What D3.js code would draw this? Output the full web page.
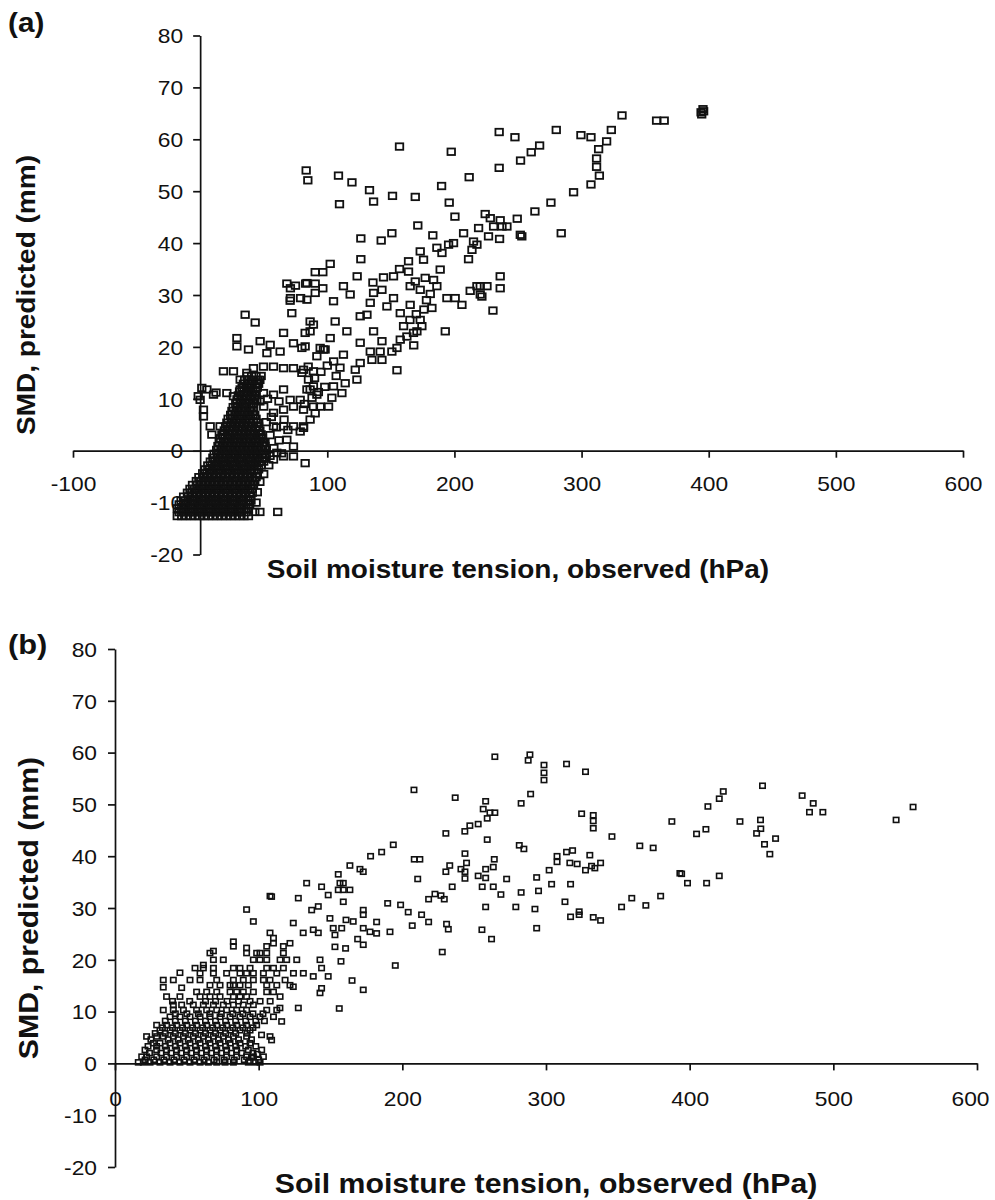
<!DOCTYPE html>
<html>
<head>
<meta charset="utf-8">
<script src="https://cdn.jsdelivr.net/npm/d3@7"></script>
<style>
  body { margin: 0; background: #fff; }
  svg text { font-family: "Liberation Sans", Arial, Helvetica, sans-serif; fill: #111; }
</style>
</head>
<body>
<div id="chart"></div>
<script>
// AXIS TICKS
const yTicks = [-20, -10, 0, 10, 20, 30, 40, 50, 60, 70, 80];
const xTicksA = [-100, 100, 200, 300, 400, 500, 600];
const xTicksB = [0, 100, 200, 300, 400, 500, 600];

// PANEL (a) - SCATTERED POINTS [tension hPa, SMD mm]
const smdA_scatter = [
  [394,65.2],[395.5,65.8],[394.5,64.8],[396,65.4],[331.8,64.6],[359,63.6],[365,63.6],
  [323.4,61.8],[319.7,59.6],[313.4,58.1],[311.8,56.3],[311.8,54.7],[314,53],[307.4,51.3],[293.7,49.8],[275.9,47.8],[263.3,46.1],[249.4,44.7],[284,41.9],[251.8,41.6],[253,41.3],
  [280.1,61.8],[299.5,60.8],[307.4,60.4],[235.2,61.4],[247.6,60.4],[267,58.8],[260.4,57.5],[252,55.9],[235.2,54.5],[211.6,52.7],[197.5,57.6],[156.8,58.6],
  [83.4,54],[84.7,52.1],[108.8,53],[119.4,51.7],[133.2,50.2],[109.6,47.5],[136.4,48],[151.3,49.1],[169.2,48.9],[189.9,51],[195.9,47.8],[200.4,45.1],[171.2,43.4],[183,41.5],[126.4,40.9],[142.4,40.5],[150.8,41.9],[126.4,36.9],[102.3,36],[96.5,34.4],[123.5,33.6],[90.5,34.4],
  [224.2,45.6],[228.2,44.8],[236,44.4],[237.4,43.2],[241.3,43.2],[219,42.9],[207.2,41.9],[230.8,43.2],[226.8,41.3],[235.5,40.8],[215,40.3],[217.7,39.7],[199.3,40],[195.4,39.7],[186.2,39.1],[190.2,38.1],[213.8,38.7],[211.1,36.9],
  [173.1,38.4],[175.7,36.8],[163.9,36.5],[156.8,35],[163.9,34.5],[169.2,32.6],[177,33.3],[188.8,34.9],[183.6,32.9],[186.2,31.7],[173.1,31],[144.2,33.4],[152.1,33.6],[135.9,32.4],[112.7,31.7],[118,30.1],[136.4,30.4],[236,33.6],[236,31.3],[220.3,31.7],[225.6,31.7],[212.4,30.8],[220.3,30.1],
  [230.3,27],[192.8,23],[154.8,15.5],[221.6,29.7],[217.7,31.7],[205.9,28.1],[200.6,29.4],[194.1,29.4],
  [173.1,25.2],[174.4,24],[170.5,23],[167.8,22.7],[162.6,22],[157.4,21.4],[154.8,19.8],[150.8,19.1],[143,17.5],[135.1,17.5],[141.6,19.1],[133.8,19.1],[125.9,16.9],[122,15.6],[123.3,13.7],[114.1,13],[111.5,11.1],[104.9,12.4],[103.6,10.2],[101,8.5],[94.4,8.5],[90.5,7.2],[86.5,6],[81.3,4.4],[78.7,3.7],
  [84,32.3],[90.5,30.4],[84,29.1],[104.9,28.8],[133.8,28.5],[146.9,27.8],[143,31],[152.1,29.4],[157.4,26.5],[165.2,28.1],[182.3,27.5],[165.2,31.7],[125.9,25.9],[131.2,26.2],[136.4,23],[143,21.1],[125.9,20.8],[115.4,23],[106.2,24.9],[102.3,21.7],[112.7,18.5],[97,19.5],[91.8,18.2],[86.5,23],[86.5,24.9],[82.6,20.1],[89.1,12.4],[84,11.8],[91.8,10.8],[85.2,13.7],
  [160,24],[165,25.2],[170,26.3],[176,27.2],[168,20.3],[178,29],[181,30.2],
  [80,15],[85,16.2],[90,14],[95,15.2],[100,16.4],[105,17.2],[88,10.2],[93,11.3],[98,12.3],[82,9],[107,14.4],[110,16],
  [70.8,28.9],[72.1,26.5],[35.4,26.2],[43.3,24.7],[65.6,22.7],[73.4,20.7],[80,19.8],[82.6,22.7],[89.1,24.3],[28.9,21.7],[28.9,20.1],[38,19.5],[47.2,21.1],[55.1,20.4],[62.9,19.1],[52.5,18.8],[94.4,19.8],[98.3,19.5],
  [18.3,15.3],[26.2,15.3],[31.5,13.7],[36.7,15],[41.9,15.9],[49.8,16.2],[57.7,16.2],[65.6,15.9],[73.4,15.9],[81.3,15.6],[89.1,15.3],
  [1.3,12.1],[-1.5,10.5],[10.5,10.8],[0,9.8],[2.6,7.9],[2.6,6.6],[7.9,4.7],[9.2,3.1],[15.7,4.7],[17.1,3.1],[5.3,11.8],[12.5,11.2],
  [21,11.1],[26.2,10.5],[31.5,11.8],[39.3,11.1],[44.6,9.8],[49.8,11.1],[57.7,10.8],[65.6,11.8],[70.8,9.8],[78.7,9.8],[86.5,11.8],
  [57.7,7.3],[65.6,7.9],[73.4,8.5],[81.3,7.9],[89.1,8.5],[57.7,4.7],[65.6,4.7],[73.4,4.7],[81.3,4.7],[68.2,2.1],[73.4,0.8],[60.3,-0.4],[65.6,-1.1],[73.4,-1.1],[82.6,-2.4],[57.7,-1.7],[43,-11.8],[47,-11.8],[61,-11.8],
  [68.2,32.2],[71,31.3],[75,31.8],[83,32.2],[90.5,32.2],[96.5,31.3],[71,29.4],[79,29.4],
  [55,-1],[58,0.5],[62,2],[55,3],[60,4.5],[52,5.5],[56,6.5],[50,8.5],[47,9.5],[53,10],[62,9.5],[66,6],[69,4],[64,-0.5],[51,1.5],[54,-2.8],[47,-6],[45,-8],[50,-4.5],[44,-10]
];

// PANEL (a) - SOLID CLUSTER NEAR THE ORIGIN, ONE ROW PER SMD LEVEL: [SMD, [tension values]]
const smdA_denseRows = [
  [-12.6, [-18,-14.5,-11,-7.5,-4,-0.5,3,6.5,10,13.5,17,20.5,24,27.5,31,34.5,38]],
  [-11.85, [-16.5,-13,-9.5,-6,-2.5,1,4.5,8,11.5,15,18.5,22,25.5,29,32.5,36]],
  [-11.1, [-18,-14.5,-11,-7.5,-4,-0.5,3,6.5,10,13.5,17,20.5,24,27.5,31,34.5,38]],
  [-10.35, [-16.5,-13,-9.5,-6,-2.5,1,4.5,8,11.5,15,18.5,22,25.5,29,32.5,36,39]],
  [-9.6, [-15,-11.5,-8,-4.5,-1,2.5,6,9.5,13,16.5,20,23.5,27,30.5,34,37.5,40]],
  [-8.85, [-13,-9.5,-6,-2.5,1,4.5,8,11.5,15,18.5,22,25.5,29,32.5,36,39.5]],
  [-8.1, [-10,-6.5,-3,0.5,4,7.5,11,14.5,18,21.5,25,28.5,32,35.5,39,41]],
  [-7.35, [-8,-4.5,-1,2.5,6,9.5,13,16.5,20,23.5,27,30.5,34,37.5,41]],
  [-6.6, [-6,-2.5,1,4.5,8,11.5,15,18.5,22,25.5,29,32.5,36,39.5,42]],
  [-5.85, [-3,0.5,4,7.5,11,14.5,18,21.5,25,28.5,32,35.5,39,43]],
  [-5.1, [-1,2.5,6,9.5,13,16.5,20,23.5,27,30.5,34,37.5,41,44]],
  [-4.35, [2,5.5,9,12.5,16,19.5,23,26.5,30,33.5,37,40.5,45]],
  [-3.6, [4,7.5,11,14.5,18,21.5,25,28.5,32,35.5,39,42.5,46]],
  [-2.85, [6,9.5,13,16.5,20,23.5,27,30.5,34,37.5,41,44.5,48]],
  [-2.1, [8,11.5,15,18.5,22,25.5,29,32.5,36,39.5,43,46.5,50]],
  [-1.35, [10,13.5,17,20.5,24,27.5,31,34.5,38,41.5,45,48.5,51]],
  [-0.6, [11,14.5,18,21.5,25,28.5,32,35.5,39,42.5,46,49.5,52]],
  [0.15, [13,16.5,20,23.5,27,30.5,34,37.5,41,44.5,48,52]],
  [0.9, [14,17.5,21,24.5,28,31.5,35,38.5,42,45.5,49,51]],
  [1.65, [15,18.5,22,25.5,29,32.5,36,39.5,43,46.5,50]],
  [2.4, [16,19.5,23,26.5,30,33.5,37,40.5,44,47.5,49]],
  [3.15, [18,21.5,25,28.5,32,35.5,39,42.5,46,48]],
  [3.9, [19,22.5,26,29.5,33,36.5,40,43.5,47]],
  [4.65, [20,23.5,27,30.5,34,37.5,41,44.5,46]],
  [5.4, [21,24.5,28,31.5,35,38.5,42,45]],
  [6.15, [22,25.5,29,32.5,36,39.5,44]],
  [6.9, [24,27.5,31,34.5,38,41.5,43]],
  [7.65, [25,28.5,32,35.5,39,42]],
  [8.4, [26,29.5,33,36.5,40,42]],
  [9.15, [28,31.5,35,38.5,42]],
  [9.9, [29,32.5,36,39.5,43]],
  [10.65, [30,33.5,37,40.5,43]],
  [11.4, [31,34.5,38,41.5,44]],
  [12.15, [33,36.5,40,43.5,45]],
  [12.9, [34,37.5,41,44.5,46]],
  [13.65, [35,38.5,42,45.5,47]],
  [14.4, [37,40.5,44,48]]
];

// PANEL (b) - POINTS [tension hPa, SMD mm]
const smdB = [
  [16.2,0.2],[19.7,0.2],[24.4,0.2],[31.3,0.2],[38.3,0.2],[45.2,0.2],[52.2,0.2],[59.2,0.2],[65,0.2],[70.8,0.2],[76.6,0.2],[82.4,0.2],[92.8,0.2],[97.5,0.2],[101,0.2],
  [18.6,1.3],[22,1.3],[29,1.3],[35.9,1.3],[42.9,1.3],[49.9,1.3],[56.8,1.3],[63.8,1.3],[70.8,1.3],[77.7,1.3],[84.7,1.3],[91.6,1.3],[96.3,1.3],[103.3,1.3],
  [20.9,2.6],[29,2.6],[35.9,2.6],[42.9,2.6],[49.9,2.6],[56.8,2.6],[63.8,2.6],[70.8,2.6],[77.7,2.6],[84.7,2.6],[92.8,2.6],[102.1,2.6],
  [26.7,3.9],[31.3,3.9],[38.3,3.9],[45.2,3.9],[52.2,3.9],[59.2,3.9],[66.1,3.9],[73.1,3.9],[80.1,3.9],[87,3.9],[94,3.9],
  [22,5.2],[29,5.2],[33.6,5.2],[40.6,5.2],[47.6,5.2],[54.5,5.2],[61.5,5.2],[68.5,5.2],[75.4,5.2],[82.4,5.2],[91.6,5.2],[107.9,5.2],
  [31.3,6.4],[38.3,6.4],[45.2,6.4],[52.2,6.4],[59.2,6.4],[66.1,6.4],[73.1,6.4],[80.1,6.4],[87,6.4],[94,6.4],
  [29,7.4],[35.9,7.4],[42.9,7.4],[49.9,7.4],[56.8,7.4],[63.8,7.4],[70.8,7.4],[77.7,7.4],[84.7,7.4],[91.6,7.4],[98.6,7.4],
  [38.3,9],[45.2,9],[52.2,9],[59.2,9],[66.1,9],[73.1,9],[80.1,9],[87,9],[94,9],[100.9,9],[110.3,9],
  [33.6,10.3],[40.6,10.3],[47.6,10.3],[56.8,10.3],[63.8,10.3],[70.8,10.3],[77.7,10.3],[84.7,10.3],[91.6,10.3],[105.6,10.3],[112.6,10.3],
  [40.6,11.3],[46.4,11.3],[54.5,11.3],[61.5,11.3],[68.5,11.3],[75.4,11.3],[82.4,11.3],[89.3,11.3],[96.3,11.3],
  [35.9,12.9],[45.2,12.9],[59.2,12.9],[66.1,12.9],[73.1,12.9],[82.4,12.9],[87,12.9],[91.6,12.9],[114.9,12.9],
  [56.8,13.8],[63.8,13.8],[70.8,13.8],[80.1,13.8],[84.7,13.8],[89.3,13.8],[96.3,13.8],[105.6,13.8],[110.3,13.8],
  [66.1,15.1],[73.1,15.1],[80.1,15.1],[82.4,15.1],[87,15.1],[92.8,15.1],[105.6,15.1],[112.6,15.1],[121.8,15.1],
  [33.6,16.1],[40.6,16.1],[52.2,16.1],[59.2,16.1],[70.8,16.1],[82.4,16.1],[89.3,16.1],[96.3,16.1],[103.3,16.1],[107.9,16.1],[118.4,16.1],
  [59.2,17.4],[68.5,17.4],[77.7,17.4],[87,17.4],[91.6,17.4],[96.3,17.4],[103.3,17.4],[112.6,17.4],[124.2,17.4],[131.1,17.4],
  [55.7,18.4],[61.5,18.4],[68.5,18.4],[82.4,18.4],[87,18.4],[94,18.4],[105.6,18.4],[110.3,18.4],[117.2,18.4],
  [68.5,20],[75.4,20],[96.3,20],[100.9,20],[105.6,20],[114.9,20],[119.5,20],[126.5,20],
  [66.1,21.3],[91.6,21.3],[100.9,21.3],[105.6,21.3],[117.2,21.3],
  [82.4,22.6],[105.6,22.6],[117.2,22.6],[110.3,23.2],[121.8,23.2],[110.3,24.2],[107.9,25.2],[96.3,27.4],[91.6,29.7],[107.9,32.3],
  [82.4,23.5],[91.6,22.3],[98.6,21.3],[68.5,21.7],[61.5,19],[45.2,17.5],[46.4,14.6],[33.6,14.7],
  [95,1.2],[99,1.8],[94,0.5],
  [21,0.7],[27,0.7],[34,0.7],[41,0.7],[48,0.7],[55,0.7],[62,0.7],[69,0.7],[76,0.7],[83,0.7],[90,0.7],[100,0.7],
  [24,2],[32,2],[39,2],[46,2],[53,2],[60,2],[67,2],[74,2],[81,2],[88,2],[96,2],
  [23,3.3],[29,3.3],[35,3.3],[42,3.3],[49,3.3],[56,3.3],[63,3.3],[70,3.3],[77,3.3],[84,3.3],[91,3.3],[98,3.3],
  [25,4.6],[37,4.6],[44,4.6],[51,4.6],[58,4.6],[65,4.6],[72,4.6],[79,4.6],[86,4.6],[95,4.6],
  [28,5.8],[35,5.8],[42,5.8],[49,5.8],[56,5.8],[63,5.8],[70,5.8],[77,5.8],[84,5.8],[92,5.8],
  [33,6.9],[40,6.9],[47,6.9],[54,6.9],[61,6.9],[68,6.9],[75,6.9],[82,6.9],[89,6.9],[96,6.9],
  [35,8.2],[42,8.2],[49,8.2],[56,8.2],[63,8.2],[70,8.2],[77,8.2],[84,8.2],[91,8.2],[98,8.2],[104,8.2],
  [42,9.6],[50,9.6],[58,9.6],[66,9.6],[74,9.6],[82,9.6],[89,9.6],[96,9.6],[103,9.6],
  [40,12],[52,12],[63,12],[70,12],[78,12],[86,12],[94,12],[101,12],[108,12],
  [124.1,27.1],[131,25.2],[138,25.8],[141.5,25.2],[142.7,20],[143.8,18.4],[138,16.8],[143.8,14.5],[148.4,16.8],[142.7,13.6],[148.4,32.5],[143.8,34.1],[136.9,29.6],[141.5,30.3],[127.6,31.9],[133.4,34.8],[114.8,10.7],[127.6,10.7],[124.1,14.8],[116,8.1],[109,4.5],[102,5.5],[109,32.2],
  [156.1,10.6],[172.8,14.2],[165,16],[157.3,19.7],[195.1,18.9],[227.8,21.5],[255.4,25.8],[262.1,24],[293.5,26.1],[191.4,25.4],[182.1,25.1],[177.5,25.4],[172.8,26.1],[172.8,22.9],[168.9,24],[160.5,22.2],[153.1,22.5],[153.1,24.8],[151.9,26.1],[182.1,27.3],[172.8,29.6],[172.8,28.7],[165.8,27.4],[160.8,27.7],[157.8,26.1],[158.9,31.2],[189.8,30.9],[198.8,30.6],[204.1,29.2],[213.4,28.7],[218.3,27.3],[206.9,26.6],[230.8,26.9],[232,25.9],[258,30.2],[279,30.2],[292.3,29.8],[317.1,28.3],[323.1,29.3],[323.1,28.7],[332.9,28.2],[338,27.6],[352.6,30.2],[369.5,30.5],[149.6,28],
  [264.4,59.2],[288.8,59.6],[287.6,58.5],[298.6,57.6],[298.6,56.1],[298.6,54.7],[314.3,57.8],[327.5,56.3],[208.1,52.8],[236.8,51.3],[258,50.6],[256.3,49.1],[261,48.4],[264.4,48.4],[259.1,47.3],[282.7,50.2],[289.3,52],[324.8,48.2],[332.9,47.9],[332.9,46.8],[332.9,45.4],[345.9,43.8],[387.6,46.7],[365.3,42],[374.6,41.6],
  [230.3,44.4],[243.5,44.8],[247,45.9],[252.8,46.2],[259.1,43.2],[193.7,42.2],[185.6,40.8],[177.9,40],[208.3,39.4],[212.2,39.4],[243.6,40.5],[281.4,42.1],[284.6,41.4],[307.7,40],[307.7,38.9],[314.3,40.8],[318.5,41.1],[316.6,38.7],[321.7,38.5],[327.5,37.3],[330.5,40.2],[331.7,38.1],[334,37.7],[338,38.7],[302.2,37.3],[293.5,35.9],[294.8,33.3],[303.9,34.6],[317.1,34.6],[272.6,35.6],[282.7,33],
  [263.3,37.9],[264,39.4],[258,37.5],[252.8,36.2],[258,35.8],[255.6,34.1],[263.3,34.1],[268.6,32.6],[243.6,37],[243.6,35.7],[240.8,37.5],[244.7,38.7],[233,38.2],[230.3,37],[234.7,34.1],[210.7,35.6],[163.5,38.2],[170.5,37.5],[172.8,37],[155.4,36.5],[156.6,34.8],[158.9,34.8],[155.4,33.5],[158.9,33.5],[163.5,33.5],[218.3,31.7],[222.7,32.7],[226.9,32.4],[229.2,31.7],[313.2,31.2],[359.7,31.9],[379.8,32.3],[393.2,36.7],
  [450.7,53.6],[423.4,52.5],[420.6,51.1],[412.7,49.6],[478.3,51.7],[486,50.2],[483.4,48.5],[492.7,48.5],[555.5,49.5],[543.7,47],[404.8,44.3],[411.3,45.2],[435,46.7],[449.3,47],[449.5,45.3],[446.6,44.4],[452.1,42.3],[459.8,43.4],[455.8,40.4],[394.4,36.6],[398.5,34.8],[411.8,34.8],[420.6,36.2]
];

const width = 995;
const height = 1200;
const tickScale = 1.14;

const svg = d3.select("#chart")
  .append("svg")
  .attr("width", width)
  .attr("height", height)
  .style("background", "#fff");

function drawPanel(o) {
  const x = d3.scaleLinear().domain(o.xDomain).range(o.xRange);
  const y = d3.scaleLinear().domain([-20, 80]).range(o.yRange);
  const g = svg.append("g");

  // X AXIS THROUGH Y = 0
  const gx = g.append("g")
    .attr("transform", "translate(0," + y(0) + ")")
    .call(d3.axisBottom(x).tickValues(o.xTicks).tickSize(7).tickSizeOuter(0).tickFormat(d => String(d)));
  gx.selectAll("text")
    .attr("y", o.xLabelY)
    .attr("dy", null)
    .attr("dx", d => (d === 600 ? o.lastShift / tickScale : 0))
    .attr("transform", "scale(" + tickScale + ",1)")
    .style("font-size", "20px");

  // Y AXIS THROUGH X = 0
  const gy = g.append("g")
    .attr("transform", "translate(" + x(0) + ",0)")
    .call(d3.axisLeft(y).tickValues(yTicks).tickSize(7).tickSizeOuter(0).tickFormat(d => String(d)));
  gy.selectAll("text")
    .attr("x", -o.yLabelGap / tickScale)
    .attr("dy", "0.36em")
    .attr("transform", "scale(" + tickScale + ",1)")
    .style("font-size", "20px");

  [gx, gy].forEach(a => {
    a.attr("font-size", null).attr("font-family", null);
    a.selectAll("path, line").attr("stroke", "#111").attr("stroke-width", 1.7);
  });

  // POINTS
  g.append("g").selectAll("rect")
    .data(o.points)
    .join("rect")
    .attr("x", d => x(d[0]) - o.mw / 2)
    .attr("y", d => y(d[1]) - o.mh / 2)
    .attr("width", o.mw)
    .attr("height", o.mh)
    .attr("fill", "none")
    .attr("stroke", "#111")
    .attr("stroke-width", o.sw);

  // AXIS TITLES
  g.append("text")
    .attr("transform", "translate(" + (o.xRange[0] + o.xRange[1]) / 2 + "," + o.xTitleY + ") scale(1.12,1)")
    .attr("text-anchor", "middle")
    .style("font-size", o.titleSize + "px")
    .style("font-weight", "bold")
    .text("Soil moisture tension, observed (hPa)");

  g.append("text")
    .attr("transform", "translate(" + o.yTitleX + "," + (o.yRange[0] + o.yRange[1]) / 2 + ") rotate(-90) scale(1.12,1)")
    .attr("text-anchor", "middle")
    .style("font-size", o.titleSize + "px")
    .style("font-weight", "bold")
    .text("SMD, predicted (mm)");

  // PANEL LETTER
  g.append("text")
    .attr("transform", "translate(8," + o.letterY + ") scale(1.1,1)")
    .style("font-size", o.letterSize + "px")
    .style("font-weight", "bold")
    .text(o.letter);
}

// FLATTEN THE DENSE ROWS INTO [x, y] PAIRS
const smdA_dense = smdA_denseRows.flatMap(r => r[1].map(v => [v, r[0]]));

drawPanel({
  letter: "(a)", letterY: 32, letterSize: 27,
  xDomain: [-100, 600], xRange: [73, 963], yRange: [554.5, 35.5],
  xTicks: xTicksA, xLabelY: 40, yLabelGap: 17, lastShift: 0,
  xTitleY: 578, yTitleX: 35, titleSize: 25,
  points: smdA_dense.concat(smdA_scatter), mw: 7.5, mh: 6.5, sw: 1.8
});

drawPanel({
  letter: "(b)", letterY: 654, letterSize: 28,
  xDomain: [0, 600], xRange: [115, 977], yRange: [1167, 649],
  xTicks: xTicksB, xLabelY: 43, yLabelGap: 18, lastShift: -7,
  xTitleY: 1193, yTitleX: 38, titleSize: 27,
  points: smdB, mw: 5.4, mh: 5, sw: 1.6
});
</script>
</body>
</html>
